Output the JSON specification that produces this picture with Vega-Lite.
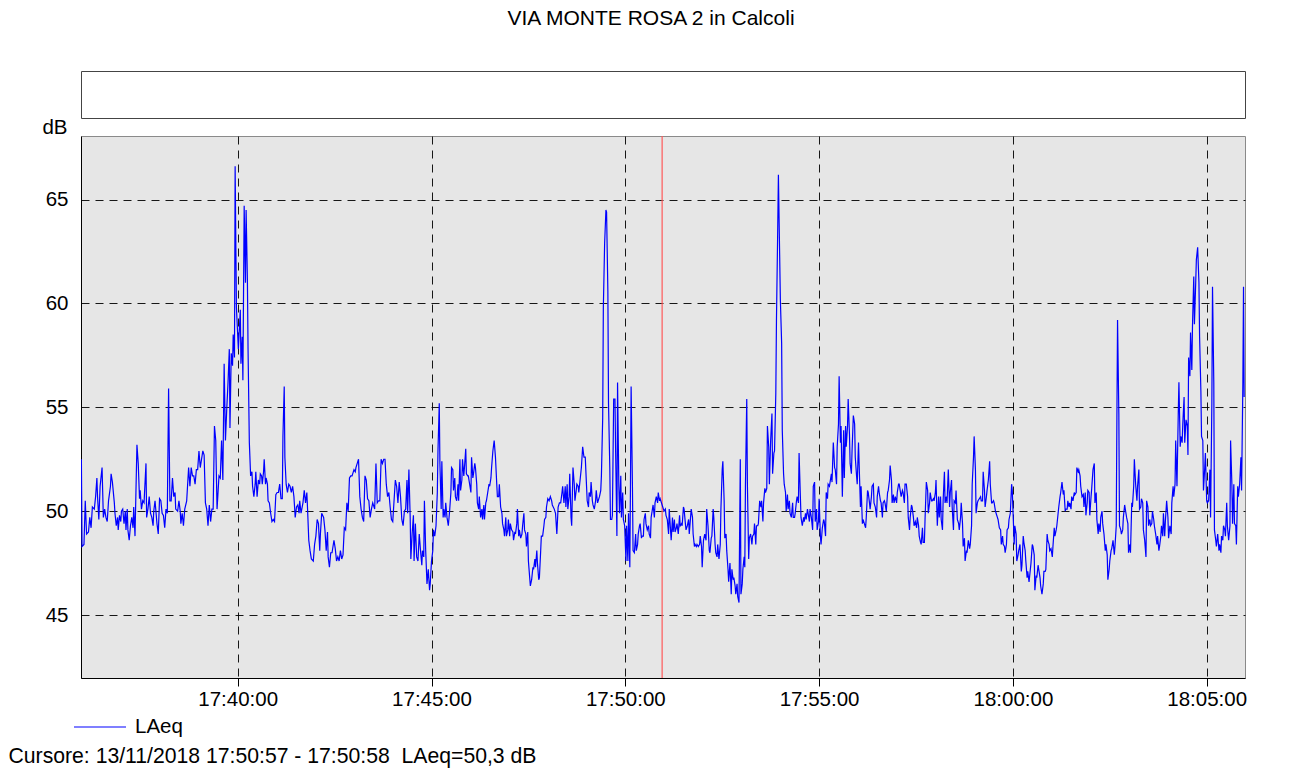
{
"$schema": "https://vega.github.io/schema/vega-lite/v6.json",
"autosize": {"type": "pad"},
"padding": {"left": 7, "top": 7, "right": 45, "bottom": 5},
"background": "white",
"config": {
  "font": "Liberation Sans",
  "view": {"stroke": "#888888"},
  "axis": {"labelFont": "Liberation Sans", "labelFontSize": 20.5, "labelColor": "black", "titleFont": "Liberation Sans", "titleFontSize": 20.5, "titleFontWeight": "normal", "titleColor": "black", "domainColor": "black", "domainWidth": 1, "tickColor": "black", "gridColor": "black", "gridDash": [8, 6], "gridWidth": 1, "gridOpacity": 0.9}
},
"title": {"text": "VIA MONTE ROSA 2 in Calcoli", "font": "Liberation Sans", "fontSize": 21, "fontWeight": "normal", "color": "black", "anchor": "middle", "frame": "group", "dx": -12, "offset": 25, "baseline": "alphabetic"},
"spacing": 18,
"bounds": "flush",
"vconcat": [
{
  "width": 1164, "height": 47,
  "view": {"fill": "white", "stroke": "#444444"},
  "data": {"values": [{"s": ""}]},
  "mark": {"type": "text"},
  "encoding": {"text": {"field": "s"}}
},
{
  "width": 1164, "height": 542,
  "view": {"fill": "#e6e6e6", "stroke": "#8a8a8a"},
  "layer": [
  {
    "data": {"values": [{"t": 64257000}]},
    "mark": {"type": "rule", "color": "#ff5a5a", "strokeWidth": 1.2},
    "encoding": {"x": {"field": "t", "type": "temporal"}}
  },
  {
    "data": {"values": [
{"t":63358000,"v":52.5},{"t":63359000,"v":48.3},{"t":63362000,"v":48.4},{"t":63364000,"v":50.5},{"t":63366000,"v":48.9},{"t":63369000,"v":49.0},{"t":63371000,"v":49.7},{"t":63373000,"v":49.2},{"t":63375000,"v":50.2},{"t":63378000,"v":50.1},
{"t":63380000,"v":50.7},{"t":63382000,"v":51.6},{"t":63383000,"v":50.7},{"t":63385000,"v":49.6},{"t":63387000,"v":51.2},{"t":63390000,"v":52.1},{"t":63392000,"v":49.7},{"t":63394000,"v":50.1},{"t":63396000,"v":49.7},{"t":63398000,"v":49.5},
{"t":63400000,"v":50.5},{"t":63403000,"v":51.2},{"t":63404000,"v":51.8},{"t":63406000,"v":51.4},{"t":63409000,"v":50.4},{"t":63410000,"v":49.9},{"t":63412000,"v":49.3},{"t":63414000,"v":49.7},{"t":63415000,"v":49.1},{"t":63417000,"v":49.8},
{"t":63419000,"v":49.5},{"t":63420000,"v":50.0},{"t":63422000,"v":50.1},{"t":63424000,"v":49.4},{"t":63426000,"v":50.0},{"t":63427000,"v":49.1},{"t":63429000,"v":50.1},{"t":63430000,"v":49.1},{"t":63432000,"v":48.6},{"t":63434000,"v":49.3},
{"t":63436000,"v":49.7},{"t":63438000,"v":49.2},{"t":63439000,"v":50.2},{"t":63441000,"v":48.8},{"t":63444000,"v":53.2},{"t":63446000,"v":52.3},{"t":63448000,"v":50.6},{"t":63449000,"v":51.0},{"t":63451000,"v":50.1},{"t":63453000,"v":50.5},
{"t":63455000,"v":50.4},{"t":63458000,"v":52.3},{"t":63459000,"v":49.7},{"t":63461000,"v":50.1},{"t":63463000,"v":50.7},{"t":63465000,"v":49.9},{"t":63467000,"v":49.7},{"t":63469000,"v":49.3},{"t":63470000,"v":50.0},{"t":63472000,"v":50.5},
{"t":63475000,"v":49.4},{"t":63477000,"v":48.9},{"t":63479000,"v":50.6},{"t":63481000,"v":50.5},{"t":63483000,"v":49.9},{"t":63485000,"v":49.8},{"t":63487000,"v":49.2},{"t":63489000,"v":50.1},{"t":63491000,"v":49.9},{"t":63493000,"v":55.9},
{"t":63495000,"v":50.5},{"t":63497000,"v":50.5},{"t":63499000,"v":51.6},{"t":63501000,"v":50.7},{"t":63503000,"v":50.9},{"t":63504000,"v":50.1},{"t":63507000,"v":50.0},{"t":63509000,"v":50.5},{"t":63511000,"v":50.0},{"t":63512000,"v":49.4},
{"t":63514000,"v":49.9},{"t":63516000,"v":49.3},{"t":63518000,"v":50.1},{"t":63521000,"v":50.5},{"t":63524000,"v":52.1},{"t":63526000,"v":51.2},{"t":63528000,"v":52.1},{"t":63530000,"v":51.7},{"t":63532000,"v":51.7},{"t":63534000,"v":51.3},
{"t":63536000,"v":52.0},{"t":63538000,"v":52.0},{"t":63540000,"v":52.9},{"t":63542000,"v":52.1},{"t":63544000,"v":52.5},{"t":63546000,"v":52.9},{"t":63548000,"v":52.7},{"t":63550000,"v":50.4},{"t":63552000,"v":50.1},{"t":63554000,"v":49.3},
{"t":63556000,"v":50.3},{"t":63558000,"v":49.5},{"t":63560000,"v":50.1},{"t":63562000,"v":50.1},{"t":63564000,"v":54.1},{"t":63566000,"v":53.4},{"t":63568000,"v":50.1},{"t":63571000,"v":51.7},{"t":63573000,"v":51.6},{"t":63575000,"v":53.4},
{"t":63577000,"v":51.5},{"t":63579000,"v":57.1},{"t":63581000,"v":53.4},{"t":63583000,"v":54.9},{"t":63585000,"v":56.2},{"t":63587000,"v":57.8},{"t":63588000,"v":54.0},{"t":63590000,"v":57.6},{"t":63592000,"v":57.0},{"t":63593000,"v":58.5},
{"t":63595000,"v":57.4},{"t":63596000,"v":66.6},{"t":63598000,"v":59.8},{"t":63601000,"v":57.8},{"t":63604000,"v":59.7},{"t":63605000,"v":57.1},{"t":63607000,"v":58.4},{"t":63608000,"v":56.3},{"t":63610000,"v":64.7},{"t":63612000,"v":61.0},
{"t":63613000,"v":64.5},{"t":63615000,"v":61.1},{"t":63616000,"v":57.8},{"t":63618000,"v":53.3},{"t":63620000,"v":51.7},{"t":63622000,"v":51.9},{"t":63623000,"v":51.2},{"t":63625000,"v":50.7},{"t":63627000,"v":51.3},{"t":63628000,"v":51.9},
{"t":63630000,"v":50.7},{"t":63632000,"v":51.5},{"t":63634000,"v":51.3},{"t":63635000,"v":51.8},{"t":63637000,"v":51.7},{"t":63638000,"v":51.3},{"t":63640000,"v":51.9},{"t":63641000,"v":52.5},{"t":63643000,"v":51.3},{"t":63644000,"v":51.6},
{"t":63646000,"v":51.3},{"t":63647000,"v":50.5},{"t":63649000,"v":50.4},{"t":63651000,"v":49.9},{"t":63653000,"v":49.5},{"t":63655000,"v":49.6},{"t":63657000,"v":49.5},{"t":63659000,"v":50.8},{"t":63661000,"v":50.9},{"t":63663000,"v":50.9},
{"t":63665000,"v":51.3},{"t":63667000,"v":50.6},{"t":63669000,"v":50.6},{"t":63670000,"v":53.6},{"t":63672000,"v":56.0},{"t":63673000,"v":52.6},{"t":63675000,"v":51.3},{"t":63677000,"v":50.9},{"t":63679000,"v":51.3},{"t":63681000,"v":51.2},
{"t":63683000,"v":50.9},{"t":63685000,"v":51.2},{"t":63687000,"v":50.7},{"t":63689000,"v":49.7},{"t":63691000,"v":50.2},{"t":63693000,"v":50.3},{"t":63695000,"v":49.9},{"t":63696000,"v":50.5},{"t":63698000,"v":49.9},{"t":63701000,"v":50.4},
{"t":63703000,"v":51.0},{"t":63705000,"v":50.4},{"t":63707000,"v":50.9},{"t":63708000,"v":50.2},{"t":63710000,"v":48.6},{"t":63712000,"v":48.1},{"t":63714000,"v":47.7},{"t":63717000,"v":47.6},{"t":63719000,"v":48.4},{"t":63721000,"v":48.8},
{"t":63723000,"v":49.6},{"t":63725000,"v":49.4},{"t":63727000,"v":48.1},{"t":63728000,"v":48.9},{"t":63730000,"v":49.9},{"t":63733000,"v":49.7},{"t":63735000,"v":49.1},{"t":63737000,"v":48.1},{"t":63739000,"v":49.0},{"t":63740000,"v":47.8},
{"t":63742000,"v":47.3},{"t":63744000,"v":48.0},{"t":63746000,"v":48.0},{"t":63749000,"v":48.6},{"t":63751000,"v":48.2},{"t":63753000,"v":47.6},{"t":63755000,"v":47.8},{"t":63757000,"v":47.6},{"t":63759000,"v":48.1},{"t":63761000,"v":47.7},
{"t":63763000,"v":47.9},{"t":63765000,"v":49.2},{"t":63767000,"v":49.1},{"t":63769000,"v":50.4},{"t":63771000,"v":50.0},{"t":63773000,"v":51.6},{"t":63775000,"v":51.7},{"t":63777000,"v":51.7},{"t":63780000,"v":52.0},{"t":63782000,"v":51.9},
{"t":63783000,"v":52.1},{"t":63785000,"v":52.3},{"t":63787000,"v":52.5},{"t":63789000,"v":50.7},{"t":63791000,"v":50.1},{"t":63793000,"v":49.7},{"t":63795000,"v":49.5},{"t":63797000,"v":51.7},{"t":63799000,"v":51.5},{"t":63801000,"v":50.6},
{"t":63803000,"v":50.5},{"t":63805000,"v":49.7},{"t":63807000,"v":50.1},{"t":63809000,"v":50.4},{"t":63812000,"v":50.1},{"t":63814000,"v":52.3},{"t":63816000,"v":50.4},{"t":63818000,"v":50.5},{"t":63820000,"v":50.5},{"t":63822000,"v":52.5},
{"t":63824000,"v":52.3},{"t":63826000,"v":52.5},{"t":63828000,"v":52.5},{"t":63830000,"v":51.3},{"t":63832000,"v":50.7},{"t":63834000,"v":50.9},{"t":63836000,"v":50.2},{"t":63838000,"v":49.6},{"t":63840000,"v":49.5},{"t":63842000,"v":50.5},
{"t":63844000,"v":51.5},{"t":63846000,"v":51.2},{"t":63848000,"v":50.4},{"t":63850000,"v":51.4},{"t":63852000,"v":50.7},{"t":63854000,"v":49.6},{"t":63856000,"v":49.3},{"t":63858000,"v":50.0},{"t":63860000,"v":50.1},{"t":63862000,"v":51.5},
{"t":63863000,"v":49.9},{"t":63865000,"v":52.0},{"t":63867000,"v":49.7},{"t":63868000,"v":47.7},{"t":63870000,"v":48.9},{"t":63872000,"v":49.8},{"t":63873000,"v":47.6},{"t":63875000,"v":49.4},{"t":63877000,"v":47.8},{"t":63879000,"v":47.6},
{"t":63881000,"v":48.9},{"t":63883000,"v":48.1},{"t":63885000,"v":47.4},{"t":63886000,"v":48.1},{"t":63888000,"v":47.8},{"t":63889000,"v":50.5},{"t":63891000,"v":48.1},{"t":63893000,"v":46.5},{"t":63895000,"v":47.2},{"t":63897000,"v":46.2},
{"t":63898000,"v":46.5},{"t":63900000,"v":47.6},{"t":63902000,"v":48.1},{"t":63903000,"v":49.1},{"t":63905000,"v":48.8},{"t":63907000,"v":49.3},{"t":63909000,"v":50.9},{"t":63910000,"v":52.9},{"t":63912000,"v":55.2},{"t":63913000,"v":52.3},
{"t":63915000,"v":50.1},{"t":63916000,"v":52.4},{"t":63918000,"v":49.7},{"t":63919000,"v":50.1},{"t":63921000,"v":49.7},{"t":63922000,"v":50.4},{"t":63924000,"v":49.7},{"t":63926000,"v":49.3},{"t":63928000,"v":50.0},{"t":63930000,"v":50.9},
{"t":63931000,"v":52.1},{"t":63933000,"v":52.0},{"t":63934000,"v":51.0},{"t":63936000,"v":51.6},{"t":63937000,"v":50.7},{"t":63939000,"v":50.5},{"t":63941000,"v":51.3},{"t":63942000,"v":50.5},{"t":63944000,"v":52.5},{"t":63945000,"v":51.0},
{"t":63947000,"v":51.5},{"t":63948000,"v":52.5},{"t":63950000,"v":51.7},{"t":63951000,"v":52.1},{"t":63953000,"v":53.0},{"t":63954000,"v":51.8},{"t":63956000,"v":51.7},{"t":63957000,"v":51.7},{"t":63959000,"v":51.3},{"t":63961000,"v":50.9},
{"t":63962000,"v":52.6},{"t":63964000,"v":51.6},{"t":63965000,"v":51.8},{"t":63967000,"v":52.3},{"t":63968000,"v":52.1},{"t":63970000,"v":51.3},{"t":63971000,"v":50.4},{"t":63973000,"v":50.1},{"t":63974000,"v":50.7},{"t":63976000,"v":49.7},
{"t":63978000,"v":50.1},{"t":63979000,"v":49.6},{"t":63981000,"v":50.3},{"t":63982000,"v":49.6},{"t":63984000,"v":50.4},{"t":63985000,"v":50.5},{"t":63987000,"v":50.9},{"t":63989000,"v":51.3},{"t":63990000,"v":51.2},{"t":63992000,"v":51.6},
{"t":63993000,"v":52.1},{"t":63995000,"v":52.9},{"t":63997000,"v":53.4},{"t":63999000,"v":52.6},{"t":64001000,"v":51.3},{"t":64002000,"v":50.7},{"t":64004000,"v":50.7},{"t":64005000,"v":51.3},{"t":64007000,"v":50.2},{"t":64009000,"v":49.9},
{"t":64010000,"v":49.4},{"t":64012000,"v":49.1},{"t":64013000,"v":48.8},{"t":64015000,"v":49.7},{"t":64016000,"v":48.8},{"t":64018000,"v":49.1},{"t":64019000,"v":49.6},{"t":64021000,"v":48.8},{"t":64022000,"v":49.4},{"t":64024000,"v":49.1},
{"t":64026000,"v":49.0},{"t":64027000,"v":48.6},{"t":64029000,"v":49.0},{"t":64030000,"v":48.9},{"t":64032000,"v":49.4},{"t":64033000,"v":50.1},{"t":64035000,"v":48.8},{"t":64036000,"v":49.1},{"t":64038000,"v":48.7},{"t":64040000,"v":48.9},
{"t":64041000,"v":49.3},{"t":64043000,"v":49.9},{"t":64044000,"v":49.1},{"t":64046000,"v":48.9},{"t":64047000,"v":48.3},{"t":64049000,"v":49.0},{"t":64050000,"v":47.6},{"t":64052000,"v":46.8},{"t":64053000,"v":46.4},{"t":64055000,"v":46.7},
{"t":64057000,"v":47.3},{"t":64058000,"v":47.2},{"t":64060000,"v":47.7},{"t":64061000,"v":47.3},{"t":64063000,"v":48.1},{"t":64064000,"v":47.5},{"t":64066000,"v":46.7},{"t":64067000,"v":46.8},{"t":64069000,"v":48.1},{"t":64070000,"v":48.8},
{"t":64072000,"v":48.8},{"t":64074000,"v":49.3},{"t":64075000,"v":49.6},{"t":64077000,"v":49.7},{"t":64078000,"v":50.2},{"t":64080000,"v":50.6},{"t":64082000,"v":50.5},{"t":64084000,"v":50.7},{"t":64086000,"v":50.5},{"t":64087000,"v":50.3},
{"t":64090000,"v":50.1},{"t":64092000,"v":49.9},{"t":64094000,"v":48.9},{"t":64096000,"v":50.2},{"t":64098000,"v":50.4},{"t":64100000,"v":50.4},{"t":64102000,"v":50.9},{"t":64103000,"v":51.2},{"t":64105000,"v":50.4},{"t":64107000,"v":51.2},
{"t":64108000,"v":50.2},{"t":64110000,"v":51.3},{"t":64111000,"v":50.1},{"t":64113000,"v":50.7},{"t":64114000,"v":51.8},{"t":64116000,"v":49.7},{"t":64117000,"v":49.3},{"t":64119000,"v":52.1},{"t":64121000,"v":51.3},{"t":64122000,"v":50.5},
{"t":64124000,"v":51.0},{"t":64125000,"v":51.3},{"t":64127000,"v":51.2},{"t":64128000,"v":50.9},{"t":64130000,"v":51.5},{"t":64132000,"v":52.1},{"t":64134000,"v":53.1},{"t":64136000,"v":52.6},{"t":64138000,"v":52.6},{"t":64140000,"v":51.2},
{"t":64141000,"v":50.5},{"t":64143000,"v":50.2},{"t":64144000,"v":50.9},{"t":64146000,"v":50.7},{"t":64147000,"v":51.4},{"t":64149000,"v":50.5},{"t":64150000,"v":50.3},{"t":64152000,"v":50.1},{"t":64154000,"v":50.5},{"t":64155000,"v":51.0},
{"t":64157000,"v":50.4},{"t":64158000,"v":50.5},{"t":64160000,"v":50.7},{"t":64162000,"v":51.0},{"t":64163000,"v":51.7},{"t":64165000,"v":54.5},{"t":64166000,"v":59.8},{"t":64168000,"v":62.9},{"t":64170000,"v":64.5},{"t":64171000,"v":64.4},
{"t":64173000,"v":60.6},{"t":64174000,"v":55.2},{"t":64176000,"v":52.1},{"t":64177000,"v":49.6},{"t":64179000,"v":49.6},{"t":64180000,"v":49.8},{"t":64182000,"v":55.4},{"t":64184000,"v":55.4},{"t":64185000,"v":52.9},{"t":64187000,"v":48.8},
{"t":64188000,"v":56.2},{"t":64190000,"v":51.2},{"t":64191000,"v":49.9},{"t":64193000,"v":51.7},{"t":64194000,"v":49.7},{"t":64196000,"v":50.9},{"t":64197000,"v":49.6},{"t":64199000,"v":49.3},{"t":64201000,"v":47.6},{"t":64202000,"v":49.3},
{"t":64204000,"v":47.6},{"t":64205000,"v":49.9},{"t":64207000,"v":47.3},{"t":64208000,"v":51.3},{"t":64209000,"v":56.0},{"t":64211000,"v":51.3},{"t":64212000,"v":48.1},{"t":64214000,"v":48.0},{"t":64216000,"v":48.9},{"t":64217000,"v":48.1},
{"t":64219000,"v":48.4},{"t":64220000,"v":48.9},{"t":64222000,"v":49.3},{"t":64223000,"v":49.4},{"t":64225000,"v":48.7},{"t":64226000,"v":48.8},{"t":64228000,"v":48.8},{"t":64229000,"v":49.6},{"t":64231000,"v":49.9},{"t":64232000,"v":49.4},
{"t":64234000,"v":49.1},{"t":64236000,"v":49.3},{"t":64237000,"v":48.9},{"t":64239000,"v":48.7},{"t":64240000,"v":49.7},{"t":64242000,"v":50.1},{"t":64243000,"v":50.3},{"t":64245000,"v":49.7},{"t":64246000,"v":50.4},{"t":64248000,"v":50.7},
{"t":64250000,"v":50.4},{"t":64251000,"v":50.9},{"t":64253000,"v":50.5},{"t":64254000,"v":50.6},{"t":64256000,"v":50.4},{"t":64257000,"v":50.3},{"t":64259000,"v":50.1},{"t":64260000,"v":50.0},{"t":64262000,"v":50.1},{"t":64263000,"v":49.8},
{"t":64265000,"v":49.6},{"t":64267000,"v":48.9},{"t":64268000,"v":50.1},{"t":64270000,"v":49.1},{"t":64271000,"v":48.6},{"t":64273000,"v":49.7},{"t":64274000,"v":49.0},{"t":64276000,"v":49.6},{"t":64277000,"v":49.0},{"t":64279000,"v":49.2},
{"t":64280000,"v":49.4},{"t":64282000,"v":48.9},{"t":64284000,"v":49.8},{"t":64285000,"v":49.3},{"t":64287000,"v":49.4},{"t":64288000,"v":49.3},{"t":64290000,"v":50.2},{"t":64291000,"v":50.1},{"t":64293000,"v":49.4},{"t":64294000,"v":49.1},
{"t":64296000,"v":49.3},{"t":64298000,"v":49.6},{"t":64299000,"v":48.9},{"t":64301000,"v":49.7},{"t":64302000,"v":50.1},{"t":64304000,"v":49.7},{"t":64305000,"v":48.9},{"t":64307000,"v":48.3},{"t":64308000,"v":48.4},{"t":64310000,"v":48.3},
{"t":64311000,"v":48.4},{"t":64313000,"v":48.3},{"t":64315000,"v":48.4},{"t":64316000,"v":48.8},{"t":64318000,"v":48.3},{"t":64319000,"v":47.3},{"t":64321000,"v":48.6},{"t":64323000,"v":48.9},{"t":64325000,"v":48.6},{"t":64326000,"v":50.1},
{"t":64328000,"v":49.3},{"t":64330000,"v":48.1},{"t":64331000,"v":48.0},{"t":64333000,"v":48.7},{"t":64334000,"v":48.8},{"t":64336000,"v":50.1},{"t":64337000,"v":49.7},{"t":64339000,"v":48.4},{"t":64340000,"v":48.0},{"t":64342000,"v":47.8},
{"t":64343000,"v":48.4},{"t":64345000,"v":47.7},{"t":64347000,"v":48.4},{"t":64348000,"v":50.1},{"t":64350000,"v":52.0},{"t":64351000,"v":52.4},{"t":64353000,"v":50.5},{"t":64354000,"v":48.7},{"t":64356000,"v":48.9},{"t":64357000,"v":48.1},
{"t":64359000,"v":47.2},{"t":64360000,"v":46.6},{"t":64362000,"v":47.5},{"t":64364000,"v":46.0},{"t":64365000,"v":47.2},{"t":64367000,"v":46.7},{"t":64368000,"v":46.8},{"t":64370000,"v":46.4},{"t":64371000,"v":46.0},{"t":64373000,"v":46.5},
{"t":64374000,"v":45.9},{"t":64376000,"v":45.6},{"t":64378000,"v":52.5},{"t":64379000,"v":46.0},{"t":64381000,"v":46.5},{"t":64382000,"v":47.2},{"t":64384000,"v":47.8},{"t":64385000,"v":47.3},{"t":64386000,"v":51.3},{"t":64388000,"v":55.4},
{"t":64389000,"v":51.3},{"t":64391000,"v":47.7},{"t":64392000,"v":48.7},{"t":64394000,"v":48.9},{"t":64396000,"v":48.4},{"t":64397000,"v":48.8},{"t":64399000,"v":48.9},{"t":64400000,"v":49.4},{"t":64402000,"v":48.4},{"t":64403000,"v":49.3},
{"t":64405000,"v":49.3},{"t":64406000,"v":49.4},{"t":64408000,"v":50.5},{"t":64410000,"v":50.2},{"t":64411000,"v":50.5},{"t":64413000,"v":49.5},{"t":64414000,"v":50.4},{"t":64416000,"v":51.1},{"t":64417000,"v":50.9},{"t":64419000,"v":51.1},
{"t":64420000,"v":54.1},{"t":64422000,"v":53.1},{"t":64423000,"v":51.3},{"t":64425000,"v":53.4},{"t":64427000,"v":54.7},{"t":64428000,"v":51.8},{"t":64430000,"v":52.8},{"t":64431000,"v":52.9},{"t":64433000,"v":55.7},{"t":64434000,"v":59.2},
{"t":64436000,"v":63.7},{"t":64437000,"v":66.2},{"t":64438000,"v":64.2},{"t":64440000,"v":60.2},{"t":64442000,"v":58.1},{"t":64443000,"v":53.9},{"t":64445000,"v":51.8},{"t":64446000,"v":51.3},{"t":64448000,"v":50.9},{"t":64449000,"v":50.0},
{"t":64451000,"v":50.8},{"t":64452000,"v":50.1},{"t":64454000,"v":50.5},{"t":64455000,"v":49.9},{"t":64457000,"v":49.7},{"t":64459000,"v":50.4},{"t":64460000,"v":49.7},{"t":64462000,"v":49.7},{"t":64463000,"v":49.9},{"t":64465000,"v":50.5},
{"t":64466000,"v":50.7},{"t":64468000,"v":50.4},{"t":64469000,"v":52.8},{"t":64471000,"v":50.7},{"t":64472000,"v":49.7},{"t":64474000,"v":49.3},{"t":64476000,"v":49.7},{"t":64477000,"v":49.5},{"t":64479000,"v":49.9},{"t":64480000,"v":49.6},
{"t":64482000,"v":50.1},{"t":64483000,"v":49.9},{"t":64485000,"v":49.5},{"t":64486000,"v":50.1},{"t":64488000,"v":49.7},{"t":64490000,"v":49.1},{"t":64491000,"v":51.2},{"t":64493000,"v":51.4},{"t":64494000,"v":49.5},{"t":64496000,"v":50.1},
{"t":64497000,"v":49.1},{"t":64499000,"v":49.5},{"t":64500000,"v":50.6},{"t":64502000,"v":48.8},{"t":64503000,"v":48.4},{"t":64505000,"v":49.2},{"t":64507000,"v":49.6},{"t":64508000,"v":49.5},{"t":64510000,"v":48.8},{"t":64511000,"v":50.9},
{"t":64513000,"v":50.6},{"t":64514000,"v":51.3},{"t":64516000,"v":51.2},{"t":64517000,"v":51.4},{"t":64519000,"v":51.8},{"t":64520000,"v":51.4},{"t":64522000,"v":53.3},{"t":64524000,"v":52.1},{"t":64525000,"v":52.0},{"t":64527000,"v":51.3},
{"t":64528000,"v":53.1},{"t":64530000,"v":54.2},{"t":64531000,"v":56.5},{"t":64533000,"v":53.3},{"t":64534000,"v":54.1},{"t":64536000,"v":50.7},{"t":64538000,"v":53.9},{"t":64539000,"v":51.6},{"t":64541000,"v":54.1},{"t":64542000,"v":53.1},
{"t":64544000,"v":54.1},{"t":64545000,"v":55.4},{"t":64547000,"v":53.7},{"t":64548000,"v":52.3},{"t":64550000,"v":51.8},{"t":64551000,"v":52.9},{"t":64553000,"v":54.6},{"t":64555000,"v":54.2},{"t":64556000,"v":52.6},{"t":64558000,"v":51.7},
{"t":64559000,"v":51.3},{"t":64561000,"v":53.3},{"t":64563000,"v":51.2},{"t":64564000,"v":50.2},{"t":64565000,"v":51.2},{"t":64567000,"v":49.4},{"t":64568000,"v":49.6},{"t":64570000,"v":49.4},{"t":64572000,"v":49.2},{"t":64573000,"v":49.7},
{"t":64575000,"v":51.0},{"t":64576000,"v":50.9},{"t":64578000,"v":50.4},{"t":64579000,"v":50.1},{"t":64581000,"v":50.7},{"t":64582000,"v":51.2},{"t":64584000,"v":51.3},{"t":64585000,"v":50.4},{"t":64587000,"v":50.2},{"t":64589000,"v":49.7},
{"t":64590000,"v":50.7},{"t":64592000,"v":51.2},{"t":64593000,"v":50.9},{"t":64595000,"v":50.5},{"t":64596000,"v":50.4},{"t":64598000,"v":49.7},{"t":64599000,"v":50.4},{"t":64601000,"v":50.5},{"t":64602000,"v":50.4},{"t":64604000,"v":50.0},
{"t":64606000,"v":50.9},{"t":64607000,"v":51.0},{"t":64609000,"v":51.5},{"t":64610000,"v":52.2},{"t":64612000,"v":51.5},{"t":64613000,"v":50.4},{"t":64615000,"v":50.8},{"t":64616000,"v":50.4},{"t":64618000,"v":50.7},{"t":64620000,"v":50.4},
{"t":64621000,"v":50.9},{"t":64623000,"v":51.3},{"t":64624000,"v":51.3},{"t":64626000,"v":50.9},{"t":64627000,"v":50.7},{"t":64629000,"v":51.0},{"t":64630000,"v":50.9},{"t":64632000,"v":50.4},{"t":64633000,"v":51.3},{"t":64635000,"v":51.3},
{"t":64637000,"v":50.7},{"t":64638000,"v":49.7},{"t":64640000,"v":49.1},{"t":64641000,"v":49.7},{"t":64643000,"v":50.3},{"t":64644000,"v":50.2},{"t":64646000,"v":49.7},{"t":64647000,"v":49.3},{"t":64649000,"v":49.5},{"t":64651000,"v":49.2},
{"t":64652000,"v":49.7},{"t":64654000,"v":49.3},{"t":64655000,"v":48.8},{"t":64657000,"v":48.5},{"t":64658000,"v":48.4},{"t":64660000,"v":49.2},{"t":64661000,"v":48.5},{"t":64663000,"v":48.5},{"t":64664000,"v":49.6},{"t":64666000,"v":51.4},
{"t":64668000,"v":51.0},{"t":64669000,"v":49.9},{"t":64671000,"v":50.4},{"t":64672000,"v":50.9},{"t":64674000,"v":50.5},{"t":64675000,"v":50.5},{"t":64677000,"v":50.6},{"t":64678000,"v":50.5},{"t":64680000,"v":50.9},{"t":64681000,"v":51.5},
{"t":64683000,"v":49.3},{"t":64685000,"v":50.7},{"t":64686000,"v":49.7},{"t":64688000,"v":50.7},{"t":64689000,"v":49.6},{"t":64691000,"v":49.1},{"t":64692000,"v":50.5},{"t":64694000,"v":51.9},{"t":64695000,"v":50.4},{"t":64697000,"v":50.7},
{"t":64698000,"v":50.4},{"t":64700000,"v":52.0},{"t":64702000,"v":50.2},{"t":64703000,"v":50.9},{"t":64705000,"v":51.5},{"t":64706000,"v":50.2},{"t":64708000,"v":49.1},{"t":64709000,"v":50.5},{"t":64711000,"v":50.4},{"t":64712000,"v":51.0},
{"t":64714000,"v":49.6},{"t":64716000,"v":49.4},{"t":64717000,"v":49.1},{"t":64719000,"v":49.7},{"t":64720000,"v":50.4},{"t":64722000,"v":49.4},{"t":64723000,"v":48.3},{"t":64725000,"v":48.7},{"t":64726000,"v":47.6},{"t":64728000,"v":48.1},
{"t":64729000,"v":48.0},{"t":64731000,"v":48.6},{"t":64733000,"v":48.2},{"t":64734000,"v":48.4},{"t":64736000,"v":49.3},{"t":64737000,"v":51.3},{"t":64739000,"v":52.6},{"t":64740000,"v":53.6},{"t":64742000,"v":52.0},{"t":64743000,"v":49.9},
{"t":64745000,"v":50.4},{"t":64746000,"v":50.5},{"t":64748000,"v":50.6},{"t":64750000,"v":50.7},{"t":64751000,"v":50.5},{"t":64753000,"v":50.5},{"t":64754000,"v":51.9},{"t":64756000,"v":51.0},{"t":64757000,"v":50.2},{"t":64759000,"v":50.7},
{"t":64760000,"v":51.0},{"t":64762000,"v":51.5},{"t":64764000,"v":52.4},{"t":64765000,"v":51.3},{"t":64767000,"v":50.4},{"t":64768000,"v":50.4},{"t":64770000,"v":50.5},{"t":64771000,"v":50.4},{"t":64773000,"v":50.0},{"t":64774000,"v":49.9},
{"t":64776000,"v":49.7},{"t":64777000,"v":49.6},{"t":64779000,"v":49.2},{"t":64781000,"v":49.1},{"t":64782000,"v":48.4},{"t":64784000,"v":48.8},{"t":64785000,"v":48.4},{"t":64787000,"v":48.3},{"t":64788000,"v":48.0},{"t":64790000,"v":48.4},
{"t":64791000,"v":49.1},{"t":64793000,"v":49.2},{"t":64794000,"v":49.6},{"t":64796000,"v":49.9},{"t":64798000,"v":51.3},{"t":64799000,"v":51.0},{"t":64801000,"v":49.3},{"t":64802000,"v":48.4},{"t":64803000,"v":49.3},{"t":64805000,"v":48.9},
{"t":64806000,"v":47.6},{"t":64808000,"v":47.9},{"t":64809000,"v":48.1},{"t":64811000,"v":48.4},{"t":64813000,"v":47.1},{"t":64814000,"v":47.4},{"t":64816000,"v":48.8},{"t":64817000,"v":48.5},{"t":64819000,"v":48.1},{"t":64820000,"v":47.6},
{"t":64822000,"v":46.8},{"t":64823000,"v":47.1},{"t":64825000,"v":46.6},{"t":64826000,"v":46.9},{"t":64828000,"v":47.5},{"t":64830000,"v":48.4},{"t":64831000,"v":48.3},{"t":64833000,"v":47.9},{"t":64834000,"v":46.2},{"t":64836000,"v":46.9},
{"t":64837000,"v":46.8},{"t":64839000,"v":47.4},{"t":64840000,"v":47.2},{"t":64842000,"v":46.8},{"t":64843000,"v":46.4},{"t":64845000,"v":46.0},{"t":64847000,"v":46.5},{"t":64848000,"v":47.1},{"t":64850000,"v":47.1},{"t":64851000,"v":47.2},
{"t":64853000,"v":48.9},{"t":64854000,"v":48.6},{"t":64856000,"v":48.4},{"t":64857000,"v":48.1},{"t":64859000,"v":48.2},{"t":64861000,"v":47.8},{"t":64862000,"v":48.3},{"t":64864000,"v":49.2},{"t":64865000,"v":48.8},{"t":64867000,"v":49.1},
{"t":64868000,"v":49.3},{"t":64870000,"v":49.9},{"t":64871000,"v":50.2},{"t":64873000,"v":50.7},{"t":64874000,"v":50.9},{"t":64876000,"v":51.4},{"t":64878000,"v":50.8},{"t":64879000,"v":51.0},{"t":64881000,"v":50.0},{"t":64882000,"v":50.1},
{"t":64884000,"v":50.1},{"t":64885000,"v":50.5},{"t":64887000,"v":50.2},{"t":64888000,"v":50.4},{"t":64890000,"v":50.1},{"t":64891000,"v":50.7},{"t":64893000,"v":50.5},{"t":64895000,"v":50.9},{"t":64896000,"v":50.8},{"t":64898000,"v":50.9},
{"t":64899000,"v":52.1},{"t":64901000,"v":51.9},{"t":64902000,"v":52.0},{"t":64904000,"v":51.7},{"t":64905000,"v":51.2},{"t":64907000,"v":50.7},{"t":64909000,"v":50.8},{"t":64910000,"v":50.2},{"t":64912000,"v":50.9},{"t":64913000,"v":49.8},
{"t":64915000,"v":50.4},{"t":64916000,"v":51.0},{"t":64918000,"v":50.9},{"t":64919000,"v":49.8},{"t":64921000,"v":50.7},{"t":64922000,"v":51.1},{"t":64924000,"v":52.0},{"t":64926000,"v":52.3},{"t":64927000,"v":50.4},{"t":64929000,"v":50.9},
{"t":64930000,"v":49.6},{"t":64932000,"v":48.9},{"t":64933000,"v":49.4},{"t":64935000,"v":49.0},{"t":64936000,"v":49.7},{"t":64938000,"v":50.0},{"t":64939000,"v":49.4},{"t":64941000,"v":48.9},{"t":64943000,"v":48.1},{"t":64944000,"v":48.4},
{"t":64946000,"v":47.9},{"t":64947000,"v":46.7},{"t":64949000,"v":47.2},{"t":64950000,"v":47.6},{"t":64952000,"v":48.1},{"t":64953000,"v":48.2},{"t":64955000,"v":48.6},{"t":64957000,"v":47.9},{"t":64958000,"v":48.3},{"t":64960000,"v":49.3},
{"t":64961000,"v":54.5},{"t":64962000,"v":59.2},{"t":64964000,"v":54.7},{"t":64965000,"v":49.3},{"t":64967000,"v":49.1},{"t":64968000,"v":48.9},{"t":64970000,"v":49.1},{"t":64971000,"v":49.7},{"t":64973000,"v":50.3},{"t":64974000,"v":50.1},
{"t":64976000,"v":49.7},{"t":64978000,"v":49.4},{"t":64979000,"v":48.0},{"t":64981000,"v":48.4},{"t":64982000,"v":48.0},{"t":64984000,"v":50.4},{"t":64985000,"v":50.2},{"t":64987000,"v":51.2},{"t":64988000,"v":52.5},{"t":64990000,"v":51.3},
{"t":64992000,"v":50.5},{"t":64993000,"v":51.2},{"t":64995000,"v":52.0},{"t":64996000,"v":50.1},{"t":64998000,"v":50.2},{"t":64999000,"v":50.6},{"t":65001000,"v":50.4},{"t":65002000,"v":49.1},{"t":65004000,"v":48.6},{"t":65006000,"v":47.8},
{"t":65007000,"v":50.5},{"t":65009000,"v":50.2},{"t":65010000,"v":49.3},{"t":65012000,"v":49.6},{"t":65013000,"v":49.3},{"t":65015000,"v":49.4},{"t":65016000,"v":50.0},{"t":65018000,"v":49.6},{"t":65019000,"v":49.3},{"t":65021000,"v":48.9},
{"t":65023000,"v":48.4},{"t":65024000,"v":48.8},{"t":65026000,"v":48.1},{"t":65027000,"v":48.3},{"t":65029000,"v":48.8},{"t":65030000,"v":49.3},{"t":65032000,"v":48.8},{"t":65033000,"v":49.9},{"t":65035000,"v":48.8},{"t":65036000,"v":49.5},
{"t":65038000,"v":50.5},{"t":65040000,"v":49.7},{"t":65041000,"v":48.7},{"t":65043000,"v":49.3},{"t":65045000,"v":48.9},{"t":65046000,"v":50.4},{"t":65048000,"v":51.2},{"t":65049000,"v":50.7},{"t":65051000,"v":51.3},{"t":65052000,"v":53.4},
{"t":65054000,"v":51.2},{"t":65056000,"v":54.7},{"t":65057000,"v":56.2},{"t":65059000,"v":53.1},{"t":65060000,"v":53.6},{"t":65062000,"v":53.3},{"t":65063000,"v":54.2},{"t":65065000,"v":55.5},{"t":65066000,"v":53.3},{"t":65068000,"v":54.4},
{"t":65070000,"v":54.1},{"t":65071000,"v":52.7},{"t":65072000,"v":57.4},{"t":65074000,"v":56.5},{"t":65075000,"v":58.6},{"t":65077000,"v":56.8},{"t":65078000,"v":58.9},{"t":65080000,"v":61.3},{"t":65081000,"v":59.0},{"t":65083000,"v":61.0},
{"t":65084000,"v":62.1},{"t":65086000,"v":62.7},{"t":65088000,"v":61.0},{"t":65089000,"v":58.4},{"t":65091000,"v":55.8},{"t":65092000,"v":53.6},{"t":65094000,"v":53.4},{"t":65095000,"v":51.0},{"t":65097000,"v":52.1},{"t":65098000,"v":52.8},
{"t":65100000,"v":50.5},{"t":65101000,"v":50.4},{"t":65103000,"v":50.5},{"t":65105000,"v":52.0},{"t":65106000,"v":49.7},{"t":65108000,"v":55.2},{"t":65109000,"v":60.8},{"t":65111000,"v":56.2},{"t":65112000,"v":49.1},{"t":65114000,"v":48.6},
{"t":65115000,"v":48.3},{"t":65117000,"v":48.9},{"t":65119000,"v":48.1},{"t":65120000,"v":48.4},{"t":65122000,"v":48.0},{"t":65123000,"v":48.8},{"t":65125000,"v":48.6},{"t":65126000,"v":49.3},{"t":65128000,"v":49.1},{"t":65129000,"v":48.8},
{"t":65131000,"v":50.4},{"t":65132000,"v":49.3},{"t":65134000,"v":48.6},{"t":65136000,"v":49.3},{"t":65137000,"v":53.4},{"t":65139000,"v":51.3},{"t":65140000,"v":49.4},{"t":65142000,"v":51.3},{"t":65143000,"v":49.4},{"t":65145000,"v":49.3},
{"t":65146000,"v":48.4},{"t":65148000,"v":51.2},{"t":65149000,"v":50.7},{"t":65151000,"v":51.3},{"t":65153000,"v":52.6},{"t":65154000,"v":51.0},{"t":65156000,"v":56.2},{"t":65157000,"v":60.8},{"t":65158000,"v":55.5}
    ]},
    "mark": {"type": "line", "strokeWidth": 1.2, "clip": true},
    "encoding": {
      "x": {"field": "t", "type": "temporal",
        "scale": {"type": "utc", "domain": [63357400, 65159300], "nice": false},
        "axis": {"values": [63600000, 63900000, 64200000, 64500000, 64800000, 65100000],
          "labelExpr": "utcFormat(datum.value, '%H:%M:%S')",
          "tickSize": 8, "labelPadding": 3, "labelFlush": false, "labelOverlap": false, "grid": true,
          "title": "Cursore: 13/11/2018 17:50:57 - 17:50:58 \u00a0LAeq=50,3 dB",
          "titleFontSize": 21.2,
          "titleX": -73, "titleY": 84, "titleAlign": "left", "titleAnchor": "start", "titleBaseline": "alphabetic"}},
      "y": {"field": "v", "type": "quantitative",
        "scale": {"domain": [41.97, 68.06], "nice": false, "zero": false},
        "axis": {"values": [45, 50, 55, 60, 65], "ticks": false, "labelPadding": 13, "grid": true,
          "title": "dB", "titleAngle": 0, "titleX": -14, "titleY": -3, "titleAlign": "right", "titleBaseline": "alphabetic"}},
      "color": {"datum": "LAeq", "type": "nominal", "scale": {"range": ["#0000ff"]},
        "legend": {"orient": "none", "legendX": -8, "legendY": 629, "title": null, "symbolType": "stroke", "symbolSize": 2704, "symbolStrokeWidth": 1.2, "labelFont": "Liberation Sans", "labelFontSize": 20.5, "labelColor": "black", "labelOffset": 8, "padding": 0}}
    }
  }
  ]
}
]
}
